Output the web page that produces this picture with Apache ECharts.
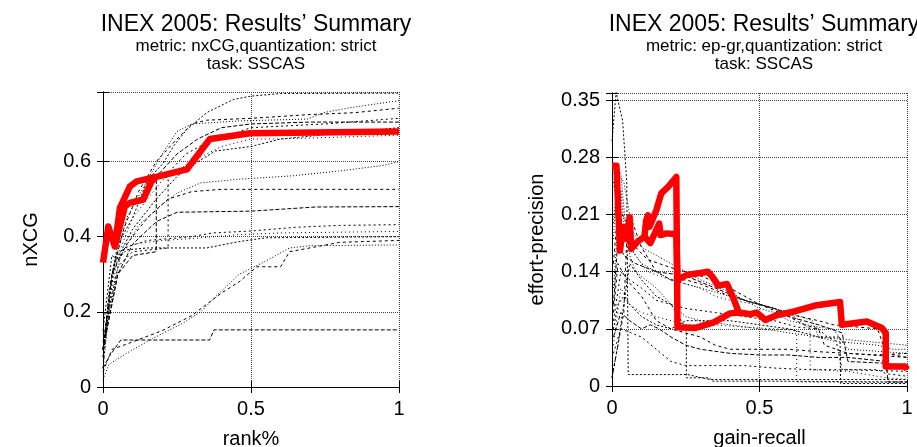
<!DOCTYPE html>
<html>
<head>
<meta charset="utf-8">
<script src="https://cdn.jsdelivr.net/npm/echarts@6/dist/echarts.min.js"></script>
<style>
html, body { margin: 0; background: #fff; }
#chart { width: 917px; height: 447px; }
</style>
</head>
<body>
<div id="chart"></div>
<script>
// left panel: nxCG vs rank%
const nxcgRed1 = [[0,0.331],[0.018,0.427],[0.04,0.374],[0.057,0.476],[0.091,0.534],[0.114,0.547],[0.18,0.559],[0.283,0.579],[0.361,0.66],[0.497,0.675],[1,0.68]];
const nxcgRed2 = [[0.04,0.374],[0.074,0.481],[0.091,0.49],[0.136,0.499],[0.164,0.547],[0.18,0.559]];
const nxcgA = [[0,0.08],[0.02,0.25],[0.05,0.38],[0.1,0.45],[0.15,0.55],[0.204,0.596],[0.238,0.641],[0.283,0.685],[0.35,0.73],[0.44,0.765],[0.5,0.774],[0.6,0.781],[1,0.782]];
const nxcgB = [[0,0.1],[0.03,0.3],[0.08,0.45],[0.15,0.55],[0.2,0.62],[0.25,0.68],[0.3,0.7],[0.46,0.708],[0.69,0.713],[0.75,0.731],[0.85,0.745],[1,0.762]];
const nxcgP = [[0,0.1],[0.03,0.3],[0.07,0.42],[0.12,0.52],[0.18,0.6],[0.25,0.66],[0.3,0.7],[0.35,0.71],[0.5,0.715],[0.6,0.72],[0.7,0.725],[0.85,0.73],[1,0.742]];
const nxcgN = [[0,0.1],[0.05,0.3],[0.1,0.35],[0.18,0.36],[0.18,0.56],[0.25,0.62],[0.32,0.66],[0.4,0.69],[0.5,0.7],[0.7,0.705],[1,0.705]];
const nxcgO = [[0,0.12],[0.05,0.32],[0.1,0.36],[0.22,0.37],[0.22,0.57],[0.28,0.62],[0.35,0.65],[0.5,0.69],[0.75,0.7],[1,0.715]];
const nxcgQ = [[0,0.1],[0.05,0.35],[0.1,0.45],[0.2,0.55],[0.3,0.6],[0.4,0.64],[0.5,0.66],[0.6,0.66],[1,0.67]];
const nxcgR = [[0,0.1],[0.04,0.33],[0.1,0.42],[0.18,0.5],[0.25,0.56],[0.3,0.59],[0.38,0.628],[0.5,0.64],[0.6,0.66],[0.8,0.675],[1,0.69]];
const nxcgF = [[0,0.05],[0.02,0.2],[0.06,0.35],[0.12,0.43],[0.19,0.48],[0.25,0.516],[0.33,0.543],[0.46,0.553],[0.64,0.562],[0.8,0.575],[0.95,0.59],[1,0.6]];
const nxcgG = [[0,0.1],[0.03,0.3],[0.08,0.38],[0.15,0.45],[0.22,0.5],[0.3,0.52],[0.4,0.526],[1,0.526]];
const nxcgH = [[0,0.1],[0.05,0.3],[0.1,0.38],[0.18,0.44],[0.25,0.465],[0.5,0.468],[0.72,0.479],[1,0.48]];
const nxcgI = [[0,0.05],[0.03,0.3],[0.07,0.37],[0.15,0.39],[0.3,0.4],[0.37,0.41],[0.5,0.415],[0.65,0.425],[0.8,0.43],[1,0.432]];
const nxcgJ = [[0,0.08],[0.04,0.35],[0.1,0.38],[0.2,0.39],[0.3,0.395],[0.45,0.405],[0.6,0.41],[1,0.414]];
const nxcgK = [[0,0.15],[0.03,0.35],[0.05,0.34],[0.08,0.365],[0.15,0.37],[0.35,0.37],[0.46,0.387],[0.55,0.397],[1,0.4]];
const nxcgL1 = [[0,0.02],[0.02,0.06],[0.08,0.09],[0.17,0.13],[0.27,0.17],[0.33,0.2],[0.38,0.24],[0.46,0.3],[0.55,0.335],[0.63,0.37],[0.7,0.376],[1,0.378]];
const nxcgL2 = [[0,0.04],[0.03,0.1],[0.1,0.12],[0.2,0.15],[0.3,0.19],[0.4,0.25],[0.46,0.28],[0.52,0.32],[0.6,0.32],[0.63,0.36],[0.8,0.385],[1,0.39]];
const nxcgM = [[0,0.05],[0.02,0.08],[0.06,0.125],[0.36,0.125],[0.375,0.152],[1,0.152]];

// right panel: effort-precision vs gain-recall
const epgrRed1 = [[0,0.27],[0.015,0.27],[0.027,0.166],[0.038,0.195],[0.05,0.18],[0.06,0.207],[0.065,0.168],[0.087,0.177],[0.11,0.183],[0.116,0.203],[0.122,0.209],[0.127,0.195],[0.15,0.215],[0.167,0.236],[0.19,0.244],[0.218,0.256],[0.222,0.072],[0.28,0.071],[0.345,0.078],[0.4,0.089],[0.43,0.09],[0.47,0.088],[0.49,0.09],[0.52,0.081],[0.56,0.087],[0.615,0.091],[0.694,0.099],[0.773,0.103],[0.779,0.075],[0.864,0.079],[0.915,0.071],[0.928,0.065],[0.928,0.024],[0.994,0.024],[1,0.02]];
const epgrRed2 = [[0.11,0.183],[0.13,0.175],[0.16,0.199],[0.165,0.185],[0.185,0.187],[0.218,0.186],[0.222,0.13],[0.253,0.136],[0.31,0.139],[0.325,0.14],[0.34,0.134],[0.36,0.123],[0.39,0.125],[0.41,0.109],[0.43,0.09]];
const epgr1 = [[0,0.3],[0.014,0.36],[0.036,0.325],[0.05,0.25],[0.055,0.014],[0.257,0.014],[0.33,0.008],[0.6,0.008],[1,0.008]];
const epgr2 = [[0.005,0.2],[0.02,0.26],[0.04,0.25],[0.07,0.19],[0.1,0.17],[0.15,0.16],[0.2,0.15],[0.25,0.14],[0.3,0.13],[0.4,0.115],[0.5,0.095],[0.55,0.09],[0.6,0.08],[0.7,0.072],[0.75,0.07],[0.8,0.045],[1,0.04]];
const epgr3 = [[0.005,0.15],[0.02,0.22],[0.05,0.2],[0.08,0.17],[0.12,0.155],[0.2,0.145],[0.3,0.135],[0.4,0.12],[0.45,0.11],[0.5,0.1],[0.6,0.085],[0.65,0.075],[0.7,0.07],[0.72,0.05],[0.8,0.04],[1,0.035]];
const epgr4 = [[0.005,0.1],[0.02,0.18],[0.04,0.16],[0.08,0.15],[0.15,0.14],[0.25,0.135],[0.35,0.12],[0.45,0.105],[0.55,0.095],[0.6,0.085],[0.7,0.075],[0.78,0.065],[0.8,0.03],[0.92,0.028],[1,0.025]];
const epgr5 = [[0.005,0.08],[0.03,0.14],[0.06,0.13],[0.1,0.12],[0.15,0.105],[0.2,0.1],[0.25,0.095],[0.35,0.09],[0.45,0.085],[0.55,0.08],[0.63,0.072],[0.7,0.07],[0.73,0.06],[0.76,0.055],[0.78,0.02],[1,0.018]];
const epgr6 = [[0.005,0.05],[0.03,0.12],[0.06,0.1],[0.1,0.09],[0.15,0.085],[0.2,0.08],[0.25,0.075],[0.35,0.075],[0.45,0.072],[0.55,0.07],[0.626,0.068],[0.626,0.005],[1,0.004]];
const epgr7 = [[0,0.01],[0.02,0.05],[0.04,0.1],[0.06,0.15],[0.1,0.13],[0.15,0.11],[0.2,0.1],[0.252,0.07],[0.252,0.01],[0.33,0.01],[0.34,0.006],[0.5,0.006],[1,0.005]];
const epgr8 = [[0.005,0.12],[0.02,0.2],[0.03,0.24],[0.04,0.2],[0.06,0.17],[0.1,0.15],[0.15,0.14],[0.2,0.13],[0.25,0.125],[0.3,0.12],[0.35,0.115],[0.4,0.11],[0.45,0.105],[0.5,0.1],[0.6,0.09],[0.68,0.08],[0.7,0.06],[0.75,0.055],[0.9,0.05],[0.95,0.045],[1,0.045]];
const epgr9 = [[0.005,0.09],[0.02,0.15],[0.05,0.13],[0.1,0.11],[0.15,0.08],[0.2,0.07],[0.25,0.065],[0.3,0.06],[0.35,0.05],[0.4,0.045],[0.5,0.045],[0.6,0.045],[0.7,0.042],[0.8,0.04],[0.9,0.038],[1,0.04]];
const epgr10 = [[0.005,0.06],[0.03,0.09],[0.06,0.08],[0.1,0.07],[0.13,0.075],[0.16,0.07],[0.2,0.06],[0.25,0.05],[0.3,0.045],[0.4,0.04],[0.5,0.038],[0.6,0.038],[0.7,0.035],[0.8,0.035],[0.93,0.03],[0.935,0.005],[1,0.005]];
const epgr11 = [[0.005,0.04],[0.03,0.07],[0.1,0.06],[0.15,0.045],[0.2,0.03],[0.25,0.025],[0.35,0.025],[0.45,0.025],[0.55,0.022],[0.67,0.02],[0.8,0.02],[0.9,0.02],[0.93,0.015],[1,0.012]];
const epgr12 = [[0.005,0.25],[0.015,0.22],[0.03,0.2],[0.05,0.18],[0.08,0.16],[0.12,0.14],[0.2,0.13],[0.3,0.12],[0.35,0.11],[0.4,0.105],[0.5,0.1],[0.6,0.09],[0.671,0.07],[0.672,0.02],[0.8,0.018],[0.93,0.01],[1,0.008]];
const epgr13 = [[0.005,0.07],[0.02,0.1],[0.04,0.11],[0.06,0.1],[0.1,0.085],[0.15,0.075],[0.2,0.07],[0.25,0.08],[0.3,0.08],[0.4,0.08],[0.5,0.075],[0.6,0.07],[0.7,0.06],[0.773,0.06],[0.775,0.003],[1,0.003]];
const epgr14 = [[0.005,0.18],[0.02,0.27],[0.03,0.26],[0.045,0.2],[0.06,0.16],[0.08,0.14],[0.15,0.12],[0.2,0.1],[0.25,0.085],[0.3,0.08],[0.4,0.075],[0.5,0.07],[0.55,0.068],[0.6,0.065],[0.7,0.06],[0.85,0.055],[1,0.05]];
const epgr15 = [[0,0.01],[0.02,0.05],[0.04,0.09],[0.05,0.18],[0.07,0.2],[0.1,0.17],[0.15,0.14],[0.2,0.13],[0.25,0.13],[0.3,0.125],[0.4,0.11],[0.5,0.1],[0.55,0.095],[0.6,0.088],[0.7,0.08],[0.75,0.075],[0.9,0.07],[0.93,0.04],[1,0.035]];

const xTicks = [0, 0.5, 1];
const nxcgStep = 0.2;
const epgrStep = 0.07;

const font = 'Liberation Sans, Arial, Helvetica, sans-serif';
const dashes = [[2, 2], [1, 2], [3, 3], [4, 2], [2, 3], [1, 3]];

const chart = echarts.init(document.getElementById('chart'));

function runLine(data, ax, i) {
  return {
    type: 'line', xAxisIndex: ax, yAxisIndex: ax, data: data,
    symbol: 'none', silent: true, animation: false,
    lineStyle: { color: '#000', width: 1, type: dashes[i % dashes.length] }
  };
}
function redLine(data, ax) {
  return {
    type: 'line', xAxisIndex: ax, yAxisIndex: ax, data: data,
    symbol: 'none', silent: true, animation: false, z: 5,
    lineStyle: { color: '#ff0000', width: 6.5, join: 'round' }
  };
}
function stepFmt(step, dec) {
  return function (v) {
    const k = v / step;
    if (Math.abs(k - Math.round(k)) > 1e-6) return '';
    return Math.round(k) === 0 ? '0' : v.toFixed(dec);
  };
}
const grid = { type: 'dotted', color: '#444', width: 1 };
const label = { color: '#000', fontSize: 20, fontFamily: font, margin: 12 };
const axisName = { color: '#000', fontSize: 20, fontFamily: font };

function xAxes(gi, name) {
  return [{
    type: 'value', gridIndex: gi, min: 0, max: 1, interval: 0.5, position: 'bottom',
    name: name, nameLocation: 'middle', nameGap: 42, nameTextStyle: axisName,
    axisLine: { lineStyle: { color: '#000' } },
    axisTick: { inside: true, length: 6, lineStyle: { color: '#000' } },
    axisLabel: Object.assign({}, label, { margin: 12, formatter: v => xTicks.includes(v) ? String(v) : '' }),
    splitLine: { show: true, lineStyle: grid }
  }, {
    type: 'value', gridIndex: gi, min: 0, max: 1, interval: 0.5, position: 'top',
    axisLine: { lineStyle: { color: '#000' } },
    axisTick: { inside: true, length: 6, lineStyle: { color: '#000' } },
    axisLabel: { show: false }, splitLine: { show: false }
  }];
}
function yAxes(gi, max, step, dec, name, gap) {
  return [{
    type: 'value', gridIndex: gi, min: 0, max: max, interval: step, position: 'left',
    name: name, nameLocation: 'middle', nameGap: gap, nameTextStyle: axisName,
    axisLine: { show: true, lineStyle: { color: '#000' } },
    axisTick: { show: true, inside: true, length: 6, lineStyle: { color: '#000' } },
    axisLabel: Object.assign({ formatter: stepFmt(step, dec) }, label),
    splitLine: { show: true, lineStyle: grid }
  }, {
    type: 'value', gridIndex: gi, min: 0, max: max, interval: step, position: 'right',
    axisLine: { show: true, lineStyle: { color: '#000' } },
    axisTick: { show: true, inside: true, length: 6, lineStyle: { color: '#000' } },
    axisLabel: { show: false }, splitLine: { show: false }
  }];
}

const nxcgRuns = [nxcgA, nxcgB, nxcgP, nxcgN, nxcgO, nxcgQ, nxcgR, nxcgF, nxcgG, nxcgH, nxcgI, nxcgJ, nxcgK, nxcgL1, nxcgL2, nxcgM];
const epgrRuns = [epgr1, epgr2, epgr3, epgr4, epgr5, epgr6, epgr7, epgr8, epgr9, epgr10, epgr11, epgr12, epgr13, epgr14, epgr15];

function titles(cx, metric) {
  return [
    { text: 'INEX 2005: Results’ Summary', left: cx, top: 8, textAlign: 'center',
      textStyle: { fontSize: 23, fontWeight: 'normal', color: '#000', fontFamily: font } },
    { text: 'metric: ' + metric + ',quantization: strict', left: cx, top: 33, textAlign: 'center',
      textStyle: { fontSize: 17, fontWeight: 'normal', color: '#000', fontFamily: font } },
    { text: 'task: SSCAS', left: cx, top: 51, textAlign: 'center',
      textStyle: { fontSize: 17, fontWeight: 'normal', color: '#000', fontFamily: font } }
  ];
}

const series = [];
nxcgRuns.forEach((d, i) => series.push(runLine(d, 0, i)));
series.push(redLine(nxcgRed1, 0), redLine(nxcgRed2, 0));
epgrRuns.forEach((d, i) => series.push(runLine(d, 2, i)));
series.push(redLine(epgrRed1, 2), redLine(epgrRed2, 2));

chart.setOption({
  animation: false,
  backgroundColor: '#fff',
  title: titles(251, 'nxCG').concat(titles(759, 'ep-gr')),
  grid: [
    { left: 103, right: 518, top: 92, bottom: 60, outerBoundsMode: 'none', containLabel: false },
    { left: 612, right: 10, top: 93, bottom: 61, outerBoundsMode: 'none', containLabel: false }
  ],
  xAxis: xAxes(0, 'rank%').concat(xAxes(1, 'gain-recall')),
  yAxis: yAxes(0, 0.785, nxcgStep, 1, 'nXCG', 62).concat(yAxes(1, 0.359, epgrStep, 2, 'effort-precision', 65)),
  series: series
});
</script>
</body>
</html>
